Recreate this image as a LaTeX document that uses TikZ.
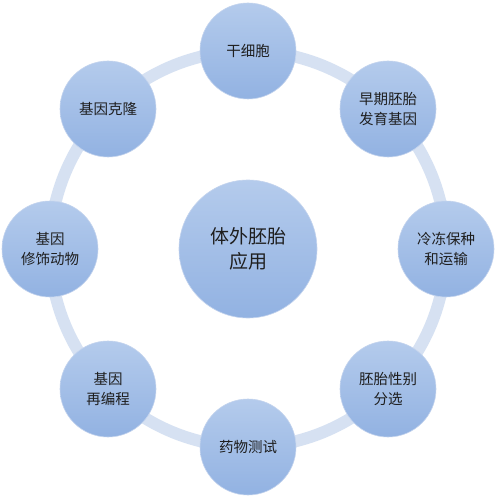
\documentclass[tikz,border=0pt]{standalone}
\usepackage{fontspec}
\newfontfamily\cjk{Noto Sans CJK SC}
\definecolor{ringc}{RGB}{214,225,242}
\definecolor{topc}{RGB}{180,203,236}
\definecolor{botc}{RGB}{146,178,226}
\definecolor{edgec}{RGB}{196,212,238}
\definecolor{txt}{RGB}{30,30,30}
\tikzset{
  sat/.style={circle, minimum size=96pt, inner sep=0pt, top color=topc, bottom color=botc, draw=edgec, line width=0.6pt, align=center, text=txt, font=\cjk\fontsize{14.5pt}{20pt}\selectfont},
  hub/.style={circle, minimum size=138pt, inner sep=0pt, top color=topc, bottom color=botc, draw=edgec, line width=0.6pt, align=center, text=txt, font=\cjk\fontsize{19pt}{25pt}\selectfont},
  ringline/.style={draw=ringc, line width=12pt}
}
\begin{document}
\begin{tikzpicture}[x=1pt,y=-1pt]
\path[fill=white] (0,0) rectangle (496,497);
\useasboundingbox (0,0) rectangle (496,497);
\coordinate (c) at (248,249);
\draw[ringline] (c) circle[radius=198];
\node[hub] (hubn) at (c) {体外胚胎\\应用};
\node[sat] (s1) at (248,51) {干细胞};
\node[sat] (s2) at (388,109) {早期胚胎\\发育基因};
\node[sat] (s3) at (446,249) {冷冻保种\\和运输};
\node[sat] (s4) at (388,389) {胚胎性别\\分选};
\node[sat] (s5) at (248,447) {药物测试};
\node[sat] (s6) at (108,389) {基因\\再编程};
\node[sat] (s7) at (50,249) {基因\\修饰动物};
\node[sat] (s8) at (108,109) {基因克隆};
\end{tikzpicture}
\end{document}
